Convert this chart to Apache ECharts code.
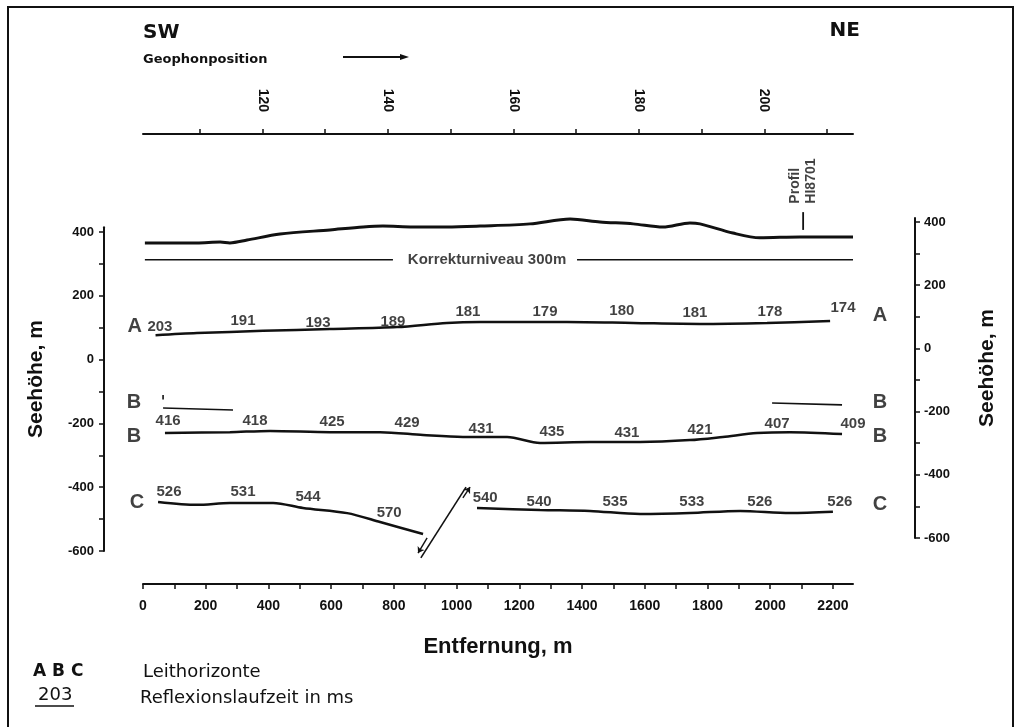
<!DOCTYPE html>
<html>
<head>
<meta charset="utf-8">
<script src="https://cdn.jsdelivr.net/npm/echarts@6/dist/echarts.min.js"></script>
<style>
html,body{margin:0;padding:0;background:#fff;}
#frame{position:absolute;left:7px;top:6px;width:1003px;height:740px;border-left:2px solid #111;border-top:2px solid #111;border-right:2px solid #111;}
#chart{position:absolute;left:0;top:0;width:1020px;height:727px;}
</style>
</head>
<body>
<div id="frame"></div>
<div id="chart"></div>
<script>
// ---- axis ticks / labels ----
const distTicks = [0,100,200,300,400,500,600,700,800,900,1000,1100,1200,1300,1400,1500,1600,1700,1800,1900,2000,2100,2200];
const distLabels = [0,200,400,600,800,1000,1200,1400,1600,1800,2000,2200];
const geoTicks = [110,120,130,140,150,160,170,180,190,200,210];
const geoLabels = [120,140,160,180,200];
const heightTicks = [-600,-500,-400,-300,-200,-100,0,100,200,300,400];
const heightLabels = [-600,-400,-200,0,200,400];

// ---- topography (m along profile, elevation m) ----
const topoX = [6,172,246,277,332,437,596,702,765,861,969,1075,1234,1362,1457,1563,1658,1744,1776,1881,1967,2095,2264];
const topoH = [353,353,356,353,362,381,394,403,406,403,403,406,413,428,419,413,403,416,413,384,369,372,372];

// ---- Korrekturniveau 300 m ----
const korrLeftX = [6,797];
const korrRightX = [1384,2264];
const korrH = 300;
const korrLabelX = 1097;

// ---- horizon A ----
const aX = [40,172,383,596,810,969,1075,1352,1563,1776,1990,2191];
const aH = [62,69,76,82,88,101,104,104,101,98,101,107];
const aLblX = [54,319,558,797,1036,1282,1527,1760,1999,2232];
const aLblH = [88,107,101,104,135,135,138,132,135,148];
const aTimes = [203,191,193,189,181,179,180,181,178,174];

// ---- horizon B (upper short segments) ----
const bUpLeftX = [64,287];
const bUpLeftH = [-167,-173];
const bUpTickX = [64,64];
const bUpTickH = [-126,-140];
const bUpRightX = [2006,2229];
const bUpRightH = [-151,-157];

// ---- horizon B ----
const bX = [70,277,405,596,756,893,1020,1161,1266,1425,1585,1744,1849,1958,2063,2229];
const bH = [-246,-243,-239,-243,-243,-252,-258,-258,-277,-274,-274,-268,-258,-246,-243,-249];
const bLblX = [80,357,603,842,1078,1304,1543,1776,2022,2264];
const bLblH = [-208,-208,-211,-214,-233,-243,-246,-236,-217,-217];
const bTimes = [416,418,425,429,431,435,431,421,407,409];

// ---- horizon C ----
const cLeftX = [48,172,277,415,510,651,756,893];
const cLeftH = [-463,-472,-466,-466,-482,-498,-526,-564];
const cRightX = [1065,1266,1425,1585,1744,1904,2063,2200];
const cRightH = [-482,-488,-491,-501,-498,-491,-498,-494];
const cLblX = [83,319,526,785,1091,1263,1505,1750,1967,2222];
const cLblH = [-432,-432,-447,-498,-451,-463,-463,-463,-463,-463];
const cTimes = [526,531,544,570,540,540,535,533,526,526];

// ---- horizon letters ----
const letterX = [-26,-29,-29,-19,2350,2350,2350,2350];
const letterH = [91,-148,-258,-463,126,-151,-258,-472];
const letterTxt = ['A','B','B','C','A','B','B','C'];

// ---- fault ----
const faultX = [886,1030];
const faultH = [-639,-416];
const faultDownX = [906,877];
const faultDownH = [-576,-624];
const faultUpX = [1020,1043];
const faultUpH = [-450,-416];

// ---- Profil HI8701 ----
const profilX = [2105,2105];
const profilH = [394,450];

const pts = (xs, ys) => xs.map((x, i) => [x, ys[i]]);
const lbl = (xs, ys, ts) => xs.map((x, i) => [x, ys[i], ts[i]]);

const INK = '#111';
const F = 'Liberation Sans, Arial, sans-serif';
const FW = 'DejaVu Sans, sans-serif';
const axisLineStyle = {color: INK, width: 2};

function lineSeries(data, width, smooth) {
  return {type: 'line', xAxisIndex: 0, yAxisIndex: 0, data: data, symbol: 'none',
    smooth: smooth === undefined ? 0.3 : smooth, clip: false,
    lineStyle: {color: INK, width: width}, z: 3};
}
function textSeries(data, size, weight) {
  return {type: 'scatter', xAxisIndex: 0, yAxisIndex: 0, data: data, symbolSize: 1, clip: false,
    itemStyle: {color: 'rgba(0,0,0,0)'},
    label: {show: true, position: 'inside', color: INK, fontFamily: F, fontSize: size, fontWeight: weight,
      formatter: p => String(p.data[2])}, z: 5};
}

const geoMin = 100.95, geoMax = 214.15;

const option = {
  animation: false,
  backgroundColor: 'transparent',
  grid: [
    {left: 143, top: 196.25, width: 710, height: 381},
    {left: 143, top: 570, width: 710, height: 14},
    {left: 143, top: 134, width: 710, height: 10},
    {left: 104, top: 227.2, width: 10, height: 323.8},
    {left: 905, top: 217.9, width: 10, height: 320.1}
  ],
  xAxis: [
    {gridIndex: 0, type: 'value', min: 0, max: 2264, show: false},
    {gridIndex: 1, type: 'value', min: 0, max: 2264, position: 'bottom',
      axisLine: {show: true, onZero: false, lineStyle: axisLineStyle},
      axisTick: {show: true, length: 5, customValues: distTicks, lineStyle: {color: INK, width: 1.5}},
      axisLabel: {customValues: distLabels, margin: 15, color: INK, fontFamily: F, fontWeight: 'bold', fontSize: 14,
        formatter: v => String(v)},
      splitLine: {show: false},
      name: 'Entfernung, m', nameLocation: 'middle', nameGap: 52,
      nameTextStyle: {color: INK, fontFamily: F, fontWeight: 'bold', fontSize: 22}},
    {gridIndex: 2, type: 'value', min: geoMin, max: geoMax, position: 'top',
      axisLine: {show: true, onZero: false, lineStyle: axisLineStyle},
      axisTick: {show: true, length: 5, customValues: geoTicks, lineStyle: {color: INK, width: 1.5}},
      axisLabel: {customValues: geoLabels, rotate: 90, margin: 22, color: INK, fontFamily: F, fontWeight: 'bold', fontSize: 14,
        formatter: v => String(v)},
      splitLine: {show: false}},
    {gridIndex: 3, type: 'value', show: false},
    {gridIndex: 4, type: 'value', show: false}
  ],
  yAxis: [
    {gridIndex: 0, type: 'value', min: -700, max: 500, show: false},
    {gridIndex: 1, type: 'value', show: false},
    {gridIndex: 2, type: 'value', show: false},
    {gridIndex: 3, type: 'value', min: -600, max: 415, position: 'left',
      axisLine: {show: true, onZero: false, lineStyle: axisLineStyle},
      axisTick: {show: true, length: 5, customValues: heightTicks, lineStyle: {color: INK, width: 1.5}},
      axisLabel: {customValues: heightLabels, margin: 10, color: INK, fontFamily: F, fontWeight: 'bold', fontSize: 13},
      splitLine: {show: false},
      name: 'Seehöhe, m', nameLocation: 'middle', nameGap: 57, nameRotate: 90,
      nameTextStyle: {color: INK, fontFamily: F, fontWeight: 'bold', fontSize: 21, padding: [0, 0, 0, 20]}},
    {gridIndex: 4, type: 'value', min: -600, max: 413, position: 'right',
      axisLine: {show: true, onZero: false, lineStyle: axisLineStyle},
      axisTick: {show: true, length: 5, customValues: heightTicks, lineStyle: {color: INK, width: 1.5}},
      axisLabel: {customValues: heightLabels, margin: 9, color: INK, fontFamily: F, fontWeight: 'bold', fontSize: 13},
      splitLine: {show: false},
      name: 'Seehöhe, m', nameLocation: 'middle', nameGap: 62, nameRotate: 90,
      nameTextStyle: {color: INK, fontFamily: F, fontWeight: 'bold', fontSize: 21, padding: [0, 0, 0, 20]}}
  ],
  series: [
    lineSeries(pts(topoX, topoH), 3),
    lineSeries(pts(korrLeftX, korrLeftX.map(() => korrH)), 1.6, false),
    lineSeries(pts(korrRightX, korrRightX.map(() => korrH)), 1.6, false),
    textSeries([[korrLabelX, korrH, 'Korrekturniveau 300m']], 15, 'bold'),
    lineSeries(pts(aX, aH), 2.5),
    lineSeries(pts(bUpLeftX, bUpLeftH), 1.6, false),
    lineSeries(pts(bUpTickX, bUpTickH), 1.6, false),
    lineSeries(pts(bUpRightX, bUpRightH), 1.6, false),
    lineSeries(pts(bX, bH), 2.5),
    lineSeries(pts(cLeftX, cLeftH), 2.5),
    lineSeries(pts(cRightX, cRightH), 2.5),
    lineSeries(pts(faultX, faultH), 1.6, false),
    {type: 'lines', coordinateSystem: 'cartesian2d', xAxisIndex: 0, yAxisIndex: 0,
      symbol: ['none', 'arrow'], symbolSize: 6,
      lineStyle: {color: INK, width: 1.4, opacity: 1},
      data: [{coords: pts(faultDownX, faultDownH)}, {coords: pts(faultUpX, faultUpH)}], z: 3},
    lineSeries(pts(profilX, profilH), 1.8, false),
    {type: 'scatter', xAxisIndex: 0, yAxisIndex: 0, data: [[profilX[1], profilH[1], 'Profil\nHI8701']],
      symbolSize: 1, clip: false, itemStyle: {color: 'rgba(0,0,0,0)'},
      label: {show: true, position: 'top', distance: 8, rotate: 90, align: 'left', verticalAlign: 'middle',
        color: INK, fontFamily: F, fontSize: 14, fontWeight: 'bold', lineHeight: 16,
        formatter: p => p.data[2]}},
    textSeries(lbl(aLblX, aLblH, aTimes), 15, 'bold'),
    textSeries(lbl(bLblX, bLblH, bTimes), 15, 'bold'),
    textSeries(lbl(cLblX, cLblH, cTimes), 15, 'bold'),
    textSeries(lbl(letterX, letterH, letterTxt), 20, 'bold')
  ],
  graphic: [
    {type: 'text', left: 143, top: 23, style: {text: 'SW', fontFamily: FW, fontWeight: 'bold', fontSize: 20, fill: INK}},
    {type: 'text', right: 160, top: 21, style: {text: 'NE', fontFamily: FW, fontWeight: 'bold', fontSize: 20, fill: INK}},
    {type: 'text', left: 143, top: 53, style: {text: 'Geophonposition', fontFamily: FW, fontWeight: 'bold', fontSize: 13, fill: INK}},
    {type: 'line', shape: {x1: 343, y1: 57, x2: 402, y2: 57}, style: {stroke: INK, lineWidth: 2}},
    {type: 'polygon', shape: {points: [[400, 54], [409, 57], [400, 60]]}, style: {fill: INK}},
    {type: 'text', left: 33, top: 663, style: {text: 'A B C', fontFamily: FW, fontWeight: 'bold', fontSize: 17, fill: INK}},
    {type: 'text', left: 38, top: 686, style: {text: '203', fontFamily: FW, fontSize: 18, fill: INK}},
    {type: 'line', shape: {x1: 35, y1: 706, x2: 74, y2: 706}, style: {stroke: INK, lineWidth: 1.6}},
    {type: 'text', left: 143, top: 663, style: {text: 'Leithorizonte', fontFamily: FW, fontSize: 18, fill: INK}},
    {type: 'text', left: 140, top: 689, style: {text: 'Reflexionslaufzeit in ms', fontFamily: FW, fontSize: 18, fill: INK}}
  ]
};

const chart = echarts.init(document.getElementById('chart'), null, {renderer: 'canvas'});
chart.setOption(option);
</script>
</body>
</html>
